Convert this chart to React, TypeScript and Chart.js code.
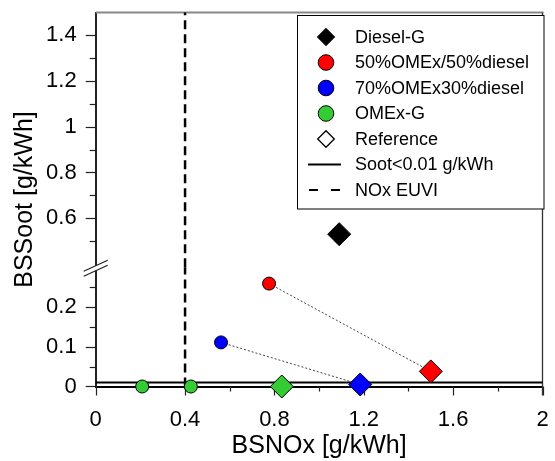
import React, { useEffect, useRef } from "react";
import { Chart, registerables } from "chart.js";

Chart.register(...registerables);

const FONT = "'Liberation Sans', Arial, Helvetica, sans-serif";

// ---- data (BSNOx [g/kWh], BSSoot [g/kWh]) ----
const dieselRefNOx = [1.09];
const dieselRefSoot = [0.53];
const blend50OptNOx = [0.776];
const blend50OptSoot = [0.259];
const blend50RefNOx = [1.5];
const blend50RefSoot = [0.038];
const blend70OptNOx = [0.561];
const blend70OptSoot = [0.111];
const blend70RefNOx = [1.184];
const blend70RefSoot = [0.005];
const omexOptNOx = [0.208, 0.426];
const omexOptSoot = [0, 0];
const omexRefNOx = [0.833];
const omexRefSoot = [0];
const sootLimit = 0.01;
const noxLimit = 0.4;

// ---- axes ----
const xRange = [0, 2];
const yLowRange = [0, 0.3];
const yHighRange = [0.385, 1.5];
const xMajorTicks = [0, 0.4, 0.8, 1.2, 1.6, 2];
const xMajorLabels = ["0", "0.4", "0.8", "1.2", "1.6", "2"];
const xMinorTicks = [0.2, 0.6, 1.0, 1.4, 1.8];
const yLowMajorTicks = [0, 0.1, 0.2];
const yLowMajorLabels = ["0", "0.1", "0.2"];
const yLowMinorTicks = [0.05, 0.15, 0.25];
const yHighMajorTicks = [0.6, 0.8, 1, 1.2, 1.4];
const yHighMajorLabels = ["0.6", "0.8", "1", "1.2", "1.4"];
const yHighMinorTicks = [0.5, 0.7, 0.9, 1.1, 1.3];

const xTitle = "BSNOx [g/kWh]";
const yTitle = "BSSoot [g/kWh]";

const legendLabels = [
  "Diesel-G",
  "50%OMEx/50%diesel",
  "70%OMEx30%diesel",
  "OMEx-G",
  "Reference",
  "Soot<0.01 g/kWh",
  "NOx EUVI",
];

const RED = "#ff0000";
const BLUE = "#0000ff";
const GREEN = "#33cc33";
const BLACK = "#000000";

const zip = (xs: number[], ys: number[]) => xs.map((x, i) => ({ x, y: ys[i] }));

const labelFor = (vals: number[], labels: string[]) => (v: any) => {
  const i = vals.findIndex((t) => Math.abs(t - Number(v)) < 1e-9);
  return i >= 0 ? labels[i] : "";
};

const noPad = (s: any) => {
  s.paddingLeft = 0;
  s.paddingRight = 0;
  s.paddingTop = 0;
  s.paddingBottom = 0;
};

const marker = (
  label: string,
  xs: number[],
  ys: number[],
  axis: string,
  style: string,
  color: string,
  radius: number
) => ({
  label,
  data: zip(xs, ys),
  yAxisID: axis,
  showLine: false,
  pointStyle: style,
  pointRadius: radius,
  pointHoverRadius: radius,
  backgroundColor: color,
  borderColor: BLACK,
  pointBorderColor: BLACK,
  pointBackgroundColor: color,
  pointBorderWidth: 1,
  clip: false,
  order: 0,
});

const line = (
  label: string,
  pts: { x: number; y: number }[],
  axis: string,
  color: string,
  width: number,
  dash: number[],
  order: number
) => ({
  label,
  data: pts,
  yAxisID: axis,
  showLine: true,
  borderColor: color,
  borderWidth: width,
  borderDash: dash,
  pointRadius: 0,
  pointHoverRadius: 0,
  clip: false,
  order,
});

const decorPlugin = {
  id: "decor",
  beforeDatasetsDraw(chart: any) {
    const ctx = chart.ctx;
    const x = chart.scales.x;
    const yl = chart.scales.yLow;
    const yh = chart.scales.yHigh;
    const ca = chart.chartArea;
    ctx.save();
    ctx.strokeStyle = "#222";
    ctx.lineWidth = 1.2;
    const tickX = (vals: number[], len: number) => {
      vals.forEach((v) => {
        const px = Math.round(x.getPixelForValue(v)) + 0.5;
        ctx.beginPath();
        ctx.moveTo(px, ca.bottom);
        ctx.lineTo(px, ca.bottom + len);
        ctx.stroke();
      });
    };
    const tickY = (s: any, vals: number[], len: number) => {
      vals.forEach((v) => {
        const py = Math.round(s.getPixelForValue(v)) + 0.5;
        ctx.beginPath();
        ctx.moveTo(ca.left - len, py);
        ctx.lineTo(ca.left, py);
        ctx.stroke();
      });
    };
    tickX(xMajorTicks, 9);
    tickX(xMinorTicks, 5);
    tickY(yl, yLowMajorTicks, 10);
    tickY(yl, yLowMinorTicks, 6);
    tickY(yh, yHighMajorTicks, 10);
    tickY(yh, yHighMinorTicks, 6);
    // frame: top (grey) and right
    ctx.strokeStyle = "#888";
    ctx.lineWidth = 2;
    ctx.beginPath();
    ctx.moveTo(ca.left, ca.top);
    ctx.lineTo(ca.right + 1, ca.top);
    ctx.stroke();
    ctx.strokeStyle = "#333";
    ctx.lineWidth = 1.3;
    ctx.beginPath();
    ctx.moveTo(ca.right, ca.top);
    ctx.lineTo(ca.right, ca.bottom + 9);
    ctx.stroke();
    ctx.restore();
  },
  afterDraw(chart: any) {
    const ctx = chart.ctx;
    const ca = chart.chartArea;
    const yl = chart.scales.yLow;
    ctx.save();
    // axis break mark
    const by = yl.top;
    const bx = ca.left;
    ctx.fillStyle = "#fff";
    ctx.beginPath();
    ctx.moveTo(bx - 12, by + 3.5 + 5.5);
    ctx.lineTo(bx + 12, by + 3.5 - 5.5);
    ctx.lineTo(bx + 12, by - 1.5 - 5.5);
    ctx.lineTo(bx - 12, by - 1.5 + 5.5);
    ctx.closePath();
    ctx.fill();
    ctx.strokeStyle = "#222";
    ctx.lineWidth = 1.2;
    [3.5, -1.5].forEach((o) => {
      ctx.beginPath();
      ctx.moveTo(bx - 12, by + o + 5.5);
      ctx.lineTo(bx + 12, by + o - 5.5);
      ctx.stroke();
    });
    // y title
    ctx.fillStyle = "#000";
    ctx.font = `25px ${FONT}`;
    ctx.textAlign = "center";
    ctx.textBaseline = "middle";
    ctx.translate(25, (ca.top + ca.bottom) / 2);
    ctx.rotate(-Math.PI / 2);
    ctx.fillText(yTitle, 0, 0);
    ctx.restore();

    // legend
    ctx.save();
    const lx = 297.5, ly = 15.5, lw = 246.5, lh = 193.5;
    ctx.fillStyle = "#fff";
    ctx.fillRect(lx, ly, lw, lh);
    ctx.strokeStyle = "#000";
    ctx.lineWidth = 1;
    ctx.strokeRect(lx, ly, lw, lh);
    const sx = 326, tx = 355, y0 = 37, dy = 25.5;
    const kinds = [
      { k: "diamond", c: BLACK },
      { k: "circle", c: RED },
      { k: "circle", c: BLUE },
      { k: "circle", c: GREEN },
      { k: "diamond", c: "#ffffff" },
      { k: "solid", c: BLACK },
      { k: "dash", c: BLACK },
    ];
    kinds.forEach((it, i) => {
      const cy = y0 + i * dy;
      ctx.strokeStyle = "#000";
      ctx.fillStyle = it.c;
      ctx.setLineDash([]);
      if (it.k === "diamond") {
        const r = 8.3;
        ctx.lineWidth = 1.3;
        ctx.beginPath();
        ctx.moveTo(sx - r, cy);
        ctx.lineTo(sx, cy - r);
        ctx.lineTo(sx + r, cy);
        ctx.lineTo(sx, cy + r);
        ctx.closePath();
        ctx.fill();
        ctx.stroke();
      } else if (it.k === "circle") {
        ctx.lineWidth = 1;
        ctx.beginPath();
        ctx.arc(sx, cy, 7.8, 0, Math.PI * 2);
        ctx.fill();
        ctx.stroke();
      } else if (it.k === "solid") {
        ctx.lineWidth = 2;
        ctx.beginPath();
        ctx.moveTo(308, cy);
        ctx.lineTo(341, cy);
        ctx.stroke();
      } else {
        ctx.lineWidth = 2;
        ctx.beginPath();
        ctx.moveTo(309, cy);
        ctx.lineTo(318, cy);
        ctx.moveTo(331, cy);
        ctx.lineTo(340, cy);
        ctx.stroke();
      }
      ctx.fillStyle = "#000";
      ctx.font = `18px ${FONT}`;
      ctx.textAlign = "left";
      ctx.textBaseline = "middle";
      ctx.fillText(legendLabels[i], tx, cy + 1);
    });
    ctx.restore();
  },
};

export default function App() {
  const ref = useRef<HTMLCanvasElement | null>(null);

  useEffect(() => {
    if (!ref.current) return;
    const datasets: any[] = [
      marker("Diesel-G", dieselRefNOx, dieselRefSoot, "yHigh", "rectRot", BLACK, 11.5),
      marker("50% ref", blend50RefNOx, blend50RefSoot, "yLow", "rectRot", RED, 11.5),
      marker("50% opt", blend50OptNOx, blend50OptSoot, "yLow", "circle", RED, 6.5),
      marker("70% ref", blend70RefNOx, blend70RefSoot, "yLow", "rectRot", BLUE, 11.5),
      marker("70% opt", blend70OptNOx, blend70OptSoot, "yLow", "circle", BLUE, 6.5),
      marker("OMEx ref", omexRefNOx, omexRefSoot, "yLow", "rectRot", GREEN, 11.5),
      marker("OMEx opt", omexOptNOx, omexOptSoot, "yLow", "circle", GREEN, 6.5),
      line(
        "50% path",
        [...zip(blend50OptNOx, blend50OptSoot), ...zip(blend50RefNOx, blend50RefSoot)],
        "yLow",
        "#444",
        1,
        [2, 2],
        1
      ),
      line(
        "70% path",
        [...zip(blend70OptNOx, blend70OptSoot), ...zip(blend70RefNOx, blend70RefSoot)],
        "yLow",
        "#444",
        1,
        [2, 2],
        1
      ),
      line(
        "Soot<0.01 g/kWh",
        [
          { x: xRange[0], y: sootLimit },
          { x: xRange[1], y: sootLimit },
        ],
        "yLow",
        BLACK,
        2,
        [],
        2
      ),
      line(
        "NOx EUVI low",
        [
          { x: noxLimit, y: yLowRange[0] },
          { x: noxLimit, y: yLowRange[1] },
        ],
        "yLow",
        BLACK,
        2.5,
        [9, 5],
        2
      ),
      line(
        "NOx EUVI high",
        [
          { x: noxLimit, y: yHighRange[0] },
          { x: noxLimit, y: yHighRange[1] },
        ],
        "yHigh",
        BLACK,
        2.5,
        [9, 5],
        2
      ),
    ];

    const tickFont = { family: FONT, size: 22 };
    const yCommon = (min: number, max: number, vals: number[], labels: string[]) => ({
      type: "linear",
      position: "left",
      stack: "ystack",
      min,
      max,
      grid: { display: false, drawTicks: false },
      border: { display: true, color: "#222", width: 2 },
      ticks: {
        font: tickFont,
        color: "#000",
        padding: 19,
        autoSkip: false,
        callback: labelFor(vals, labels),
      },
      afterBuildTicks: (s: any) => {
        s.ticks = vals.map((v) => ({ value: v }));
      },
      afterFit: (s: any) => {
        s.width = 95.7;
        noPad(s);
      },
    });

    const chart = new Chart(ref.current, {
      type: "scatter",
      data: { datasets },
      plugins: [decorPlugin],
      options: {
        animation: false,
        responsive: false,
        events: [],
        layout: { padding: { top: 10, right: 7.7, bottom: 0, left: 0 } },
        plugins: { legend: { display: false }, tooltip: { enabled: false } },
        scales: {
          x: {
            type: "linear",
            position: "bottom",
            min: xRange[0],
            max: xRange[1],
            grid: { display: false, drawTicks: false },
            border: { display: true, color: "#000", width: 2 },
            ticks: {
              font: tickFont,
              color: "#000",
              padding: 20,
              autoSkip: false,
              maxRotation: 0,
              callback: labelFor(xMajorTicks, xMajorLabels),
            },
            afterBuildTicks: (s: any) => {
              s.ticks = xMajorTicks.map((v) => ({ value: v }));
            },
            afterFit: (s: any) => {
              s.height = 74.5;
              noPad(s);
            },
            title: {
              display: true,
              text: xTitle,
              color: "#000",
              font: { family: FONT, size: 25 },
              padding: 0,
            },
          },
          yHigh: {
            ...yCommon(yHighRange[0], yHighRange[1], yHighMajorTicks, yHighMajorLabels),
            stackWeight: 256.5,
            weight: 1,
          },
          yLow: {
            ...yCommon(yLowRange[0], yLowRange[1], yLowMajorTicks, yLowMajorLabels),
            stackWeight: 120,
            weight: 0,
          },
        },
      } as any,
    });
    return () => chart.destroy();
  }, []);

  return (
    <div style={{ position: "fixed", left: 0, top: 0, width: 555, height: 461, background: "#fff" }}>
      <canvas ref={ref} width={555} height={461} style={{ width: 555, height: 461 }} />
    </div>
  );
}
